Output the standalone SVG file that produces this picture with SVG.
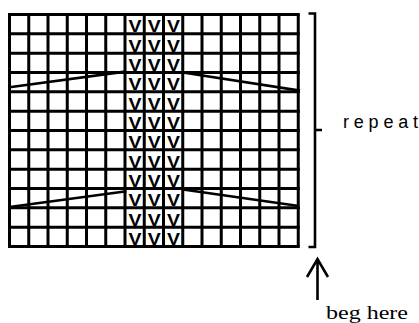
<svg xmlns="http://www.w3.org/2000/svg" width="419" height="323" viewBox="0 0 419 323">
<style>
.grid{fill:none;stroke:#000;stroke-width:3}
.ln{fill:none;stroke:#000;stroke-width:2.6;stroke-linecap:butt}
.v{font-family:"Liberation Sans",Arial,sans-serif;font-weight:bold;font-size:16px;fill:#000;text-anchor:middle}
.lbl{font-family:"Liberation Sans",Arial,sans-serif;font-size:18px;fill:#000}
.beg{font-family:"Liberation Serif","Times New Roman",serif;font-size:18px;fill:#000}
</style>
<rect width="419" height="323" fill="#fff"/>
<g id="grid">
<path class="grid" d="M9.5 14.5V246.5M28.75 14.5V246.5M48 14.5V246.5M67.25 14.5V246.5M86.5 14.5V246.5M105.75 14.5V246.5M125 14.5V246.5M144.25 14.5V246.5M163.5 14.5V246.5M182.75 14.5V246.5M202 14.5V246.5M221.25 14.5V246.5M240.5 14.5V246.5M259.75 14.5V246.5M279 14.5V246.5M298.25 14.5V246.5"/>
<path class="grid" d="M8 14.5H299.75M8 33.83H299.75M8 53.17H299.75M8 72.5H299.75M8 91.83H299.75M8 111.17H299.75M8 130.5H299.75M8 149.83H299.75M8 169.17H299.75M8 188.5H299.75M8 207.83H299.75M8 227.17H299.75M8 246.5H299.75"/>
</g>
<g id="stitches">
<g id="col1">
<text class="v" x="135" y="32.4" textLength="13" lengthAdjust="spacingAndGlyphs">V</text>
<text class="v" x="135" y="51.8" textLength="13" lengthAdjust="spacingAndGlyphs">V</text>
<text class="v" x="135" y="71.1" textLength="13" lengthAdjust="spacingAndGlyphs">V</text>
<text class="v" x="135" y="90.4" textLength="13" lengthAdjust="spacingAndGlyphs">V</text>
<text class="v" x="135" y="109.8" textLength="13" lengthAdjust="spacingAndGlyphs">V</text>
<text class="v" x="135" y="129.1" textLength="13" lengthAdjust="spacingAndGlyphs">V</text>
<text class="v" x="135" y="148.4" textLength="13" lengthAdjust="spacingAndGlyphs">V</text>
<text class="v" x="135" y="167.8" textLength="13" lengthAdjust="spacingAndGlyphs">V</text>
<text class="v" x="135" y="187.1" textLength="13" lengthAdjust="spacingAndGlyphs">V</text>
<text class="v" x="135" y="206.4" textLength="13" lengthAdjust="spacingAndGlyphs">V</text>
<text class="v" x="135" y="225.8" textLength="13" lengthAdjust="spacingAndGlyphs">V</text>
<text class="v" x="135" y="245.1" textLength="13" lengthAdjust="spacingAndGlyphs">V</text>
</g>
<g id="col2">
<text class="v" x="154.3" y="32.4" textLength="13" lengthAdjust="spacingAndGlyphs">V</text>
<text class="v" x="154.3" y="51.8" textLength="13" lengthAdjust="spacingAndGlyphs">V</text>
<text class="v" x="154.3" y="71.1" textLength="13" lengthAdjust="spacingAndGlyphs">V</text>
<text class="v" x="154.3" y="90.4" textLength="13" lengthAdjust="spacingAndGlyphs">V</text>
<text class="v" x="154.3" y="109.8" textLength="13" lengthAdjust="spacingAndGlyphs">V</text>
<text class="v" x="154.3" y="129.1" textLength="13" lengthAdjust="spacingAndGlyphs">V</text>
<text class="v" x="154.3" y="148.4" textLength="13" lengthAdjust="spacingAndGlyphs">V</text>
<text class="v" x="154.3" y="167.8" textLength="13" lengthAdjust="spacingAndGlyphs">V</text>
<text class="v" x="154.3" y="187.1" textLength="13" lengthAdjust="spacingAndGlyphs">V</text>
<text class="v" x="154.3" y="206.4" textLength="13" lengthAdjust="spacingAndGlyphs">V</text>
<text class="v" x="154.3" y="225.8" textLength="13" lengthAdjust="spacingAndGlyphs">V</text>
<text class="v" x="154.3" y="245.1" textLength="13" lengthAdjust="spacingAndGlyphs">V</text>
</g>
<g id="col3">
<text class="v" x="173.4" y="32.4" textLength="13" lengthAdjust="spacingAndGlyphs">V</text>
<text class="v" x="173.4" y="51.8" textLength="13" lengthAdjust="spacingAndGlyphs">V</text>
<text class="v" x="173.4" y="71.1" textLength="13" lengthAdjust="spacingAndGlyphs">V</text>
<text class="v" x="173.4" y="90.4" textLength="13" lengthAdjust="spacingAndGlyphs">V</text>
<text class="v" x="173.4" y="109.8" textLength="13" lengthAdjust="spacingAndGlyphs">V</text>
<text class="v" x="173.4" y="129.1" textLength="13" lengthAdjust="spacingAndGlyphs">V</text>
<text class="v" x="173.4" y="148.4" textLength="13" lengthAdjust="spacingAndGlyphs">V</text>
<text class="v" x="173.4" y="167.8" textLength="13" lengthAdjust="spacingAndGlyphs">V</text>
<text class="v" x="173.4" y="187.1" textLength="13" lengthAdjust="spacingAndGlyphs">V</text>
<text class="v" x="173.4" y="206.4" textLength="13" lengthAdjust="spacingAndGlyphs">V</text>
<text class="v" x="173.4" y="225.8" textLength="13" lengthAdjust="spacingAndGlyphs">V</text>
<text class="v" x="173.4" y="245.1" textLength="13" lengthAdjust="spacingAndGlyphs">V</text>
</g>
</g>
<g id="connectors">
<path class="ln" d="M9.5 87.3L125 71.6"/>
<path class="ln" d="M183 72.5L300 90.6"/>
<path class="ln" d="M9.5 207L126.5 191.3"/>
<path class="ln" d="M183 189.5L299 206"/>
</g>
<g id="bracket">
<path class="ln" d="M308.5 13.5H315V247H308.5M315 130H322"/>
</g>
<g id="repeat-label">
<text class="lbl" x="343" y="128" textLength="75" lengthAdjust="spacing">repeat</text>
</g>
<g id="arrow">
<path class="ln" d="M317.5 300V259M307 277L317.5 259L328 277"/>
</g>
<g id="beg-label">
<text class="beg" x="326" y="319" textLength="82" lengthAdjust="spacingAndGlyphs">beg here</text>
</g>
</svg>
